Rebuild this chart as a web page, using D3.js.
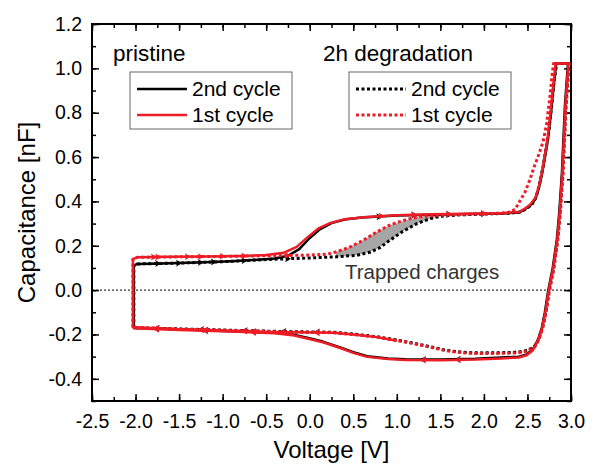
<!DOCTYPE html>
<html>
<head>
<meta charset="utf-8">
<script src="https://cdn.jsdelivr.net/npm/d3@7"></script>
<style>
  body { margin: 0; background: #fff; }
  text { font-family: "Liberation Sans", Arial, sans-serif; }
</style>
</head>
<body>
<svg id="canvas" width="600" height="468"></svg>
<script>
// C-V loops, [voltage, capacitance]
let pristine2nd = [[-2.02,-0.17],[-2.02,0.11],[-1.98,0.118],[-1.7,0.12],[-1.3,0.124],[-0.9,0.13],[-0.6,0.137],[-0.4,0.143],[-0.25,0.155],[-0.12,0.185],[0.0,0.235],[0.12,0.275],[0.25,0.302],[0.4,0.318],[0.6,0.327],[1.0,0.336],[1.4,0.34],[1.8,0.343],[2.2,0.346],[2.4,0.35],[2.45,0.36],[2.53,0.38],[2.59,0.41],[2.63,0.46],[2.67,0.53],[2.735,0.68],[2.77,0.8],[2.795,0.9],[2.815,0.97],[2.83,1.022],[2.965,1.022],[2.93,0.83],[2.896,0.53],[2.865,0.35],[2.838,0.23],[2.79,0.1],[2.735,-0.01],[2.70,-0.1],[2.665,-0.17],[2.62,-0.225],[2.56,-0.268],[2.49,-0.29],[2.4,-0.3],[2.2,-0.304],[1.9,-0.31],[1.5,-0.313],[1.1,-0.312],[0.9,-0.308],[0.66,-0.298],[0.5,-0.28],[0.35,-0.258],[0.15,-0.232],[-0.03,-0.215],[-0.2,-0.2],[-0.4,-0.192],[-0.9,-0.185],[-1.5,-0.177],[-2.02,-0.17]]

let pristine1st = [[1.0,-0.228],[0.77,-0.212],[0.5,-0.2],[0.27,-0.192],[-0.11,-0.19],[-0.4,-0.19],[-0.9,-0.183],[-1.5,-0.176],[-2.03,-0.168],[-2.03,0.14],[-1.98,0.148],[-1.6,0.15],[-1.2,0.152],[-0.8,0.154],[-0.5,0.158],[-0.3,0.168],[-0.15,0.195],[-0.02,0.24],[0.1,0.278],[0.24,0.303],[0.4,0.32],[0.65,0.33],[1.0,0.338],[1.4,0.342],[1.8,0.344],[2.2,0.347],[2.4,0.352],[2.46,0.365],[2.53,0.385],[2.59,0.415],[2.63,0.465],[2.67,0.535],[2.73,0.68],[2.765,0.8],[2.79,0.9],[2.81,0.97],[2.825,1.022],[2.97,1.022],[2.935,0.83],[2.9,0.53],[2.87,0.35],[2.842,0.23],[2.795,0.1],[2.74,-0.01],[2.705,-0.1],[2.668,-0.17],[2.622,-0.228],[2.56,-0.272],[2.49,-0.294],[2.4,-0.304],[2.2,-0.308],[1.9,-0.313],[1.5,-0.316],[1.1,-0.315],[0.9,-0.311],[0.66,-0.301],[0.5,-0.283],[0.35,-0.261],[0.15,-0.235],[-0.03,-0.218],[-0.2,-0.203],[-0.4,-0.194],[-0.9,-0.187],[-1.5,-0.18],[-2.03,-0.172]]

let degraded2nd = [[-2.02,-0.17],[-2.02,0.11],[-1.98,0.118],[-1.5,0.122],[-1.0,0.128],[-0.5,0.138],[0.0,0.145],[0.3,0.15],[0.54,0.157],[0.7,0.172],[0.8,0.19],[0.92,0.225],[1.07,0.265],[1.23,0.3],[1.38,0.322],[1.5,0.333],[1.7,0.339],[2.0,0.343],[2.3,0.347],[2.42,0.352],[2.48,0.365],[2.55,0.385],[2.6,0.42],[2.64,0.48],[2.68,0.56],[2.74,0.7],[2.775,0.82],[2.8,0.92],[2.82,0.98],[2.835,1.022],[2.975,1.022],[2.94,0.83],[2.905,0.53],[2.874,0.35],[2.846,0.23],[2.8,0.1],[2.745,-0.01],[2.71,-0.1],[2.672,-0.17],[2.63,-0.22],[2.58,-0.255],[2.5,-0.272],[2.38,-0.28],[2.2,-0.282],[1.99,-0.283],[1.85,-0.282],[1.69,-0.278],[1.55,-0.27],[1.415,-0.258],[1.2,-0.24],[1.04,-0.228],[0.77,-0.21],[0.5,-0.198],[0.27,-0.19],[-0.11,-0.188],[-0.5,-0.185],[-1.0,-0.18],[-1.5,-0.175],[-2.02,-0.17]]

let degraded1st = [[-2.03,-0.168],[-2.03,0.14],[-1.98,0.148],[-1.5,0.15],[-1.0,0.152],[-0.5,0.155],[0.0,0.158],[0.2,0.162],[0.3,0.172],[0.45,0.192],[0.6,0.222],[0.77,0.262],[0.9,0.29],[1.0,0.305],[1.15,0.322],[1.3,0.332],[1.5,0.338],[1.8,0.342],[2.2,0.347],[2.3,0.352],[2.36,0.365],[2.41,0.4],[2.47,0.44],[2.53,0.5],[2.58,0.56],[2.62,0.6],[2.68,0.67],[2.72,0.75],[2.76,0.88],[2.78,0.96],[2.8,1.022],[2.98,1.022],[2.945,0.83],[2.91,0.53],[2.878,0.35],[2.85,0.23],[2.805,0.1],[2.75,-0.01],[2.715,-0.1],[2.676,-0.17],[2.635,-0.22],[2.585,-0.256],[2.5,-0.275],[2.38,-0.283],[2.2,-0.285],[1.99,-0.286],[1.85,-0.285],[1.69,-0.28],[1.55,-0.272],[1.415,-0.26],[1.2,-0.242],[1.04,-0.23],[0.77,-0.212],[0.5,-0.2],[0.27,-0.192],[-0.11,-0.19],[-0.5,-0.186],[-1.0,-0.181],[-1.5,-0.176],[-2.03,-0.168]]

// grey band between the two degraded cycles
let trappedV     = [0.3, 0.45, 0.6, 0.77, 0.92, 1.07, 1.23, 1.38, 1.5]
let trappedUpper = [0.172, 0.192, 0.222, 0.262, 0.292, 0.31, 0.327, 0.335, 0.338]
let trappedLower = [0.15, 0.154, 0.162, 0.185, 0.225, 0.265, 0.3, 0.322, 0.333]

let xTicks = [-2.5, -2.0, -1.5, -1.0, -0.5, 0.0, 0.5, 1.0, 1.5, 2.0, 2.5, 3.0]
let yTicks = [-0.4, -0.2, 0.0, 0.2, 0.4, 0.6, 0.8, 1.0, 1.2]

let red = '#ee1c25'

let canvas = d3.select('#canvas')

let mLeft = 92, mRight = 571, mTop = 24, mBottom = 401

let xScale = d3.scaleLinear().domain([-2.5, 3.0]).range([mLeft, mRight])
let yScale = d3.scaleLinear().domain([-0.5, 1.2]).range([mBottom, mTop])

let fmt = (d) => d.toFixed(1)

// axes, ticks pointing inward on all four sides
let xMinor = d3.range(-2.5, 3.001, 0.25)
let yMinor = d3.range(-0.5, 1.2001, 0.1)

let addAxis = (axis, tx, ty) => {
    let g = canvas.append('g').attr('transform', `translate(${tx},${ty})`).call(axis)
    g.select('.domain').remove()
    g.selectAll('line').attr('stroke', '#000').attr('stroke-width', 1.5)
    g.selectAll('text').attr('font-size', 19.5).attr('fill', '#000')
    return g
}

addAxis(d3.axisBottom(xScale).tickValues(xMinor).tickSize(-4).tickFormat(''), 0, mBottom)
addAxis(d3.axisBottom(xScale).tickValues(xTicks).tickSize(-7).tickPadding(13).tickFormat(fmt), 0, mBottom)
addAxis(d3.axisTop(xScale).tickValues(xMinor).tickSize(-4).tickFormat(''), 0, mTop)
addAxis(d3.axisTop(xScale).tickValues(xTicks).tickSize(-7).tickFormat(''), 0, mTop)
addAxis(d3.axisLeft(yScale).tickValues(yMinor).tickSize(-4).tickFormat(''), mLeft, 0)
addAxis(d3.axisLeft(yScale).tickValues(yTicks).tickSize(-7).tickPadding(10).tickFormat(fmt), mLeft, 0)
addAxis(d3.axisRight(yScale).tickValues(yMinor).tickSize(-4).tickFormat(''), mRight, 0)
addAxis(d3.axisRight(yScale).tickValues(yTicks).tickSize(-7).tickFormat(''), mRight, 0)

canvas.append('rect')
    .attr('x', mLeft).attr('y', mTop)
    .attr('width', mRight - mLeft).attr('height', mBottom - mTop)
    .attr('fill', 'none').attr('stroke', '#000').attr('stroke-width', 2)

// zero line
canvas.append('line')
    .attr('x1', mLeft).attr('x2', mRight)
    .attr('y1', yScale(0)).attr('y2', yScale(0))
    .attr('stroke', '#000').attr('stroke-width', 1)
    .attr('stroke-dasharray', '2,2')

// trapped charge band
let band = d3.area()
    .x((d, i) => xScale(trappedV[i]))
    .y0((d, i) => yScale(trappedLower[i]))
    .y1((d, i) => yScale(trappedUpper[i]))

canvas.append('path')
    .attr('d', band(trappedV))
    .attr('fill', '#a6a6a6')

let line = d3.line().x((d) => xScale(d[0])).y((d) => yScale(d[1]))

let series = [
    { data: pristine2nd, color: '#000', dash: null },
    { data: degraded2nd, color: '#000', dash: '3,2.5' },
    { data: pristine1st, color: red, dash: null },
    { data: degraded1st, color: red, dash: '3,2.5' }
]

series.forEach((s) => {
    canvas.append('path')
        .attr('d', line(s.data))
        .attr('fill', 'none')
        .attr('stroke', s.color)
        .attr('stroke-width', s.dash ? 3 : 2.5)
        .attr('stroke-dasharray', s.dash)
        .attr('stroke-linejoin', 'round')

    // small sweep-direction arrowheads on the flat parts
    let marks = []
    for (let i = 1; i < s.data.length; i++) {
        let x0 = xScale(s.data[i - 1][0]), y0 = yScale(s.data[i - 1][1])
        let x1 = xScale(s.data[i][0]), y1 = yScale(s.data[i][1])
        let dx = x1 - x0, dy = y1 - y0
        if (Math.abs(dx) > 28 && Math.abs(dy) < Math.abs(dx)) {
            marks.push({ x: (x0 + x1) / 2, y: (y0 + y1) / 2, a: Math.atan2(dy, dx) * 180 / Math.PI })
        }
    }
    canvas.selectAll(null)
        .data(marks)
        .enter()
        .append('path')
        .attr('d', 'M3,0 L-3,-3.5 L-1.5,0 L-3,3.5 Z')
        .attr('transform', (d) => `translate(${d.x},${d.y}) rotate(${d.a})`)
        .attr('fill', s.color)
})

// axis titles
canvas.append('text')
    .attr('x', (mLeft + mRight) / 2).attr('y', 458)
    .attr('text-anchor', 'middle')
    .attr('font-size', 24)
    .text('Voltage [V]')

canvas.append('text')
    .attr('transform', `translate(35,${(mTop + mBottom) / 2}) rotate(-90)`)
    .attr('text-anchor', 'middle')
    .attr('font-size', 24)
    .text('Capacitance [nF]')

// annotations
canvas.append('text').attr('x', 113).attr('y', 61).attr('font-size', 22.5).text('pristine')
canvas.append('text').attr('x', 323).attr('y', 61).attr('font-size', 22.5).text('2h degradation')
canvas.append('text').attr('x', 345).attr('y', 279).attr('font-size', 20.5).attr('fill', '#333').text('Trapped charges')

// legends
let legends = [
    { x: 130, dash: null },
    { x: 349, dash: '3,2.5' }
]
let legendRows = [
    { label: '2nd cycle', color: '#000' },
    { label: '1st cycle', color: red }
]

legends.forEach((lg) => {
    canvas.append('rect')
        .attr('x', lg.x).attr('y', 72)
        .attr('width', 162).attr('height', 57)
        .attr('fill', '#fff').attr('stroke', '#666').attr('stroke-width', 1)
    legendRows.forEach((r, i) => {
        let y = 89 + i * 26
        canvas.append('line')
            .attr('x1', lg.x + 7).attr('x2', lg.x + 57)
            .attr('y1', y).attr('y2', y)
            .attr('stroke', r.color)
            .attr('stroke-width', lg.dash ? 3 : 2.5)
            .attr('stroke-dasharray', lg.dash)
        canvas.append('text')
            .attr('x', lg.x + 62).attr('y', y + 7)
            .attr('font-size', 21)
            .text(r.label)
    })
})
</script>
</body>
</html>
